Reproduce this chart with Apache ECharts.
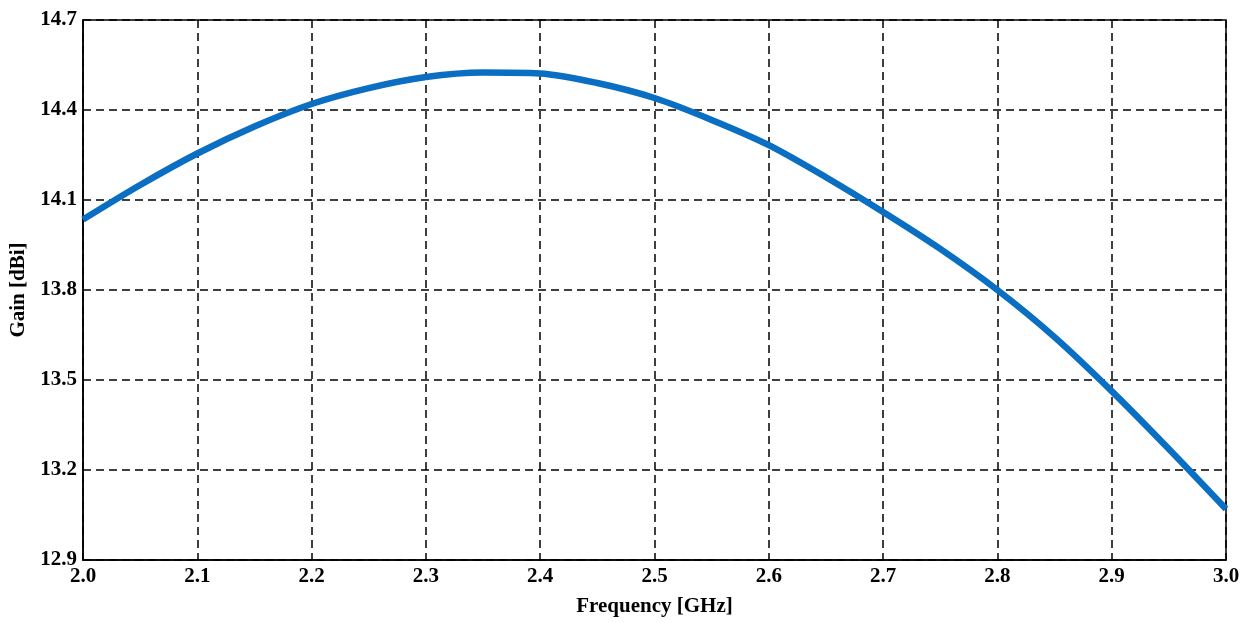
<!DOCTYPE html>
<html>
<head>
<meta charset="utf-8">
<script src="https://cdn.jsdelivr.net/npm/echarts@6/dist/echarts.min.js"></script>
<style>
  html, body { margin: 0; padding: 0; background: #fff; }
  #chart { width: 1256px; height: 623px; }
</style>
</head>
<body>
<div id="chart"></div>
<script>
// frequency points (GHz) and gain (dBi)
const freq = [2.00, 2.05, 2.10, 2.15, 2.20, 2.25, 2.30, 2.35, 2.40, 2.45, 2.50,
              2.55, 2.60, 2.65, 2.70, 2.75, 2.80, 2.85, 2.90, 2.95, 3.00];
const gain = [14.035, 14.15, 14.255, 14.345, 14.42, 14.473, 14.51, 14.525, 14.522, 14.49, 14.44,
              14.367, 14.283, 14.176, 14.06, 13.937, 13.80, 13.643, 13.463, 13.27, 13.07];

const xName = 'Frequency [GHz]';
const yName = 'Gain [dBi]';

const chart = echarts.init(document.getElementById('chart'));
const font = 'Liberation Serif';

const gridLine = {
  show: true,
  lineStyle: { color: '#000', width: 1.5, type: [8, 5] }
};

const option = {
  animation: false,
  grid: {
    left: 83, right: 30, top: 20, bottom: 63,
    show: true,
    borderColor: '#000',
    borderWidth: 1.5,
    backgroundColor: '#fff'
  },
  xAxis: {
    type: 'value',
    min: 2.0,
    max: 3.0,
    interval: 0.1,
    name: xName,
    nameLocation: 'middle',
    nameGap: 36,
    nameTextStyle: { fontFamily: font, fontWeight: 'bold', fontSize: 21, color: '#000' },
    axisLine: { show: true, lineStyle: { color: '#000', width: 1.5 } },
    axisTick: { show: false },
    axisLabel: {
      fontFamily: font, fontWeight: 'bold', fontSize: 21, color: '#000', margin: 6,
      formatter: v => v.toFixed(1)
    },
    splitLine: gridLine
  },
  yAxis: {
    type: 'value',
    min: 12.9,
    max: 14.7,
    interval: 0.3,
    name: yName,
    nameLocation: 'middle',
    nameGap: 51,
    nameTextStyle: { fontFamily: font, fontWeight: 'bold', fontSize: 21, color: '#000' },
    axisLine: { show: true, lineStyle: { color: '#000', width: 1.5 } },
    axisTick: { show: false },
    axisLabel: {
      fontFamily: font, fontWeight: 'bold', fontSize: 21, color: '#000', margin: 6,
      formatter: v => v.toFixed(1)
    },
    splitLine: gridLine
  },
  series: [
    {
      type: 'line',
      data: freq.map((f, i) => [f, gain[i]]),
      smooth: 0.3,
      showSymbol: false,
      lineStyle: { color: '#0a6fc2', width: 6.5 },
      z: 5
    }
  ]
};
chart.setOption(option);
</script>
</body>
</html>
